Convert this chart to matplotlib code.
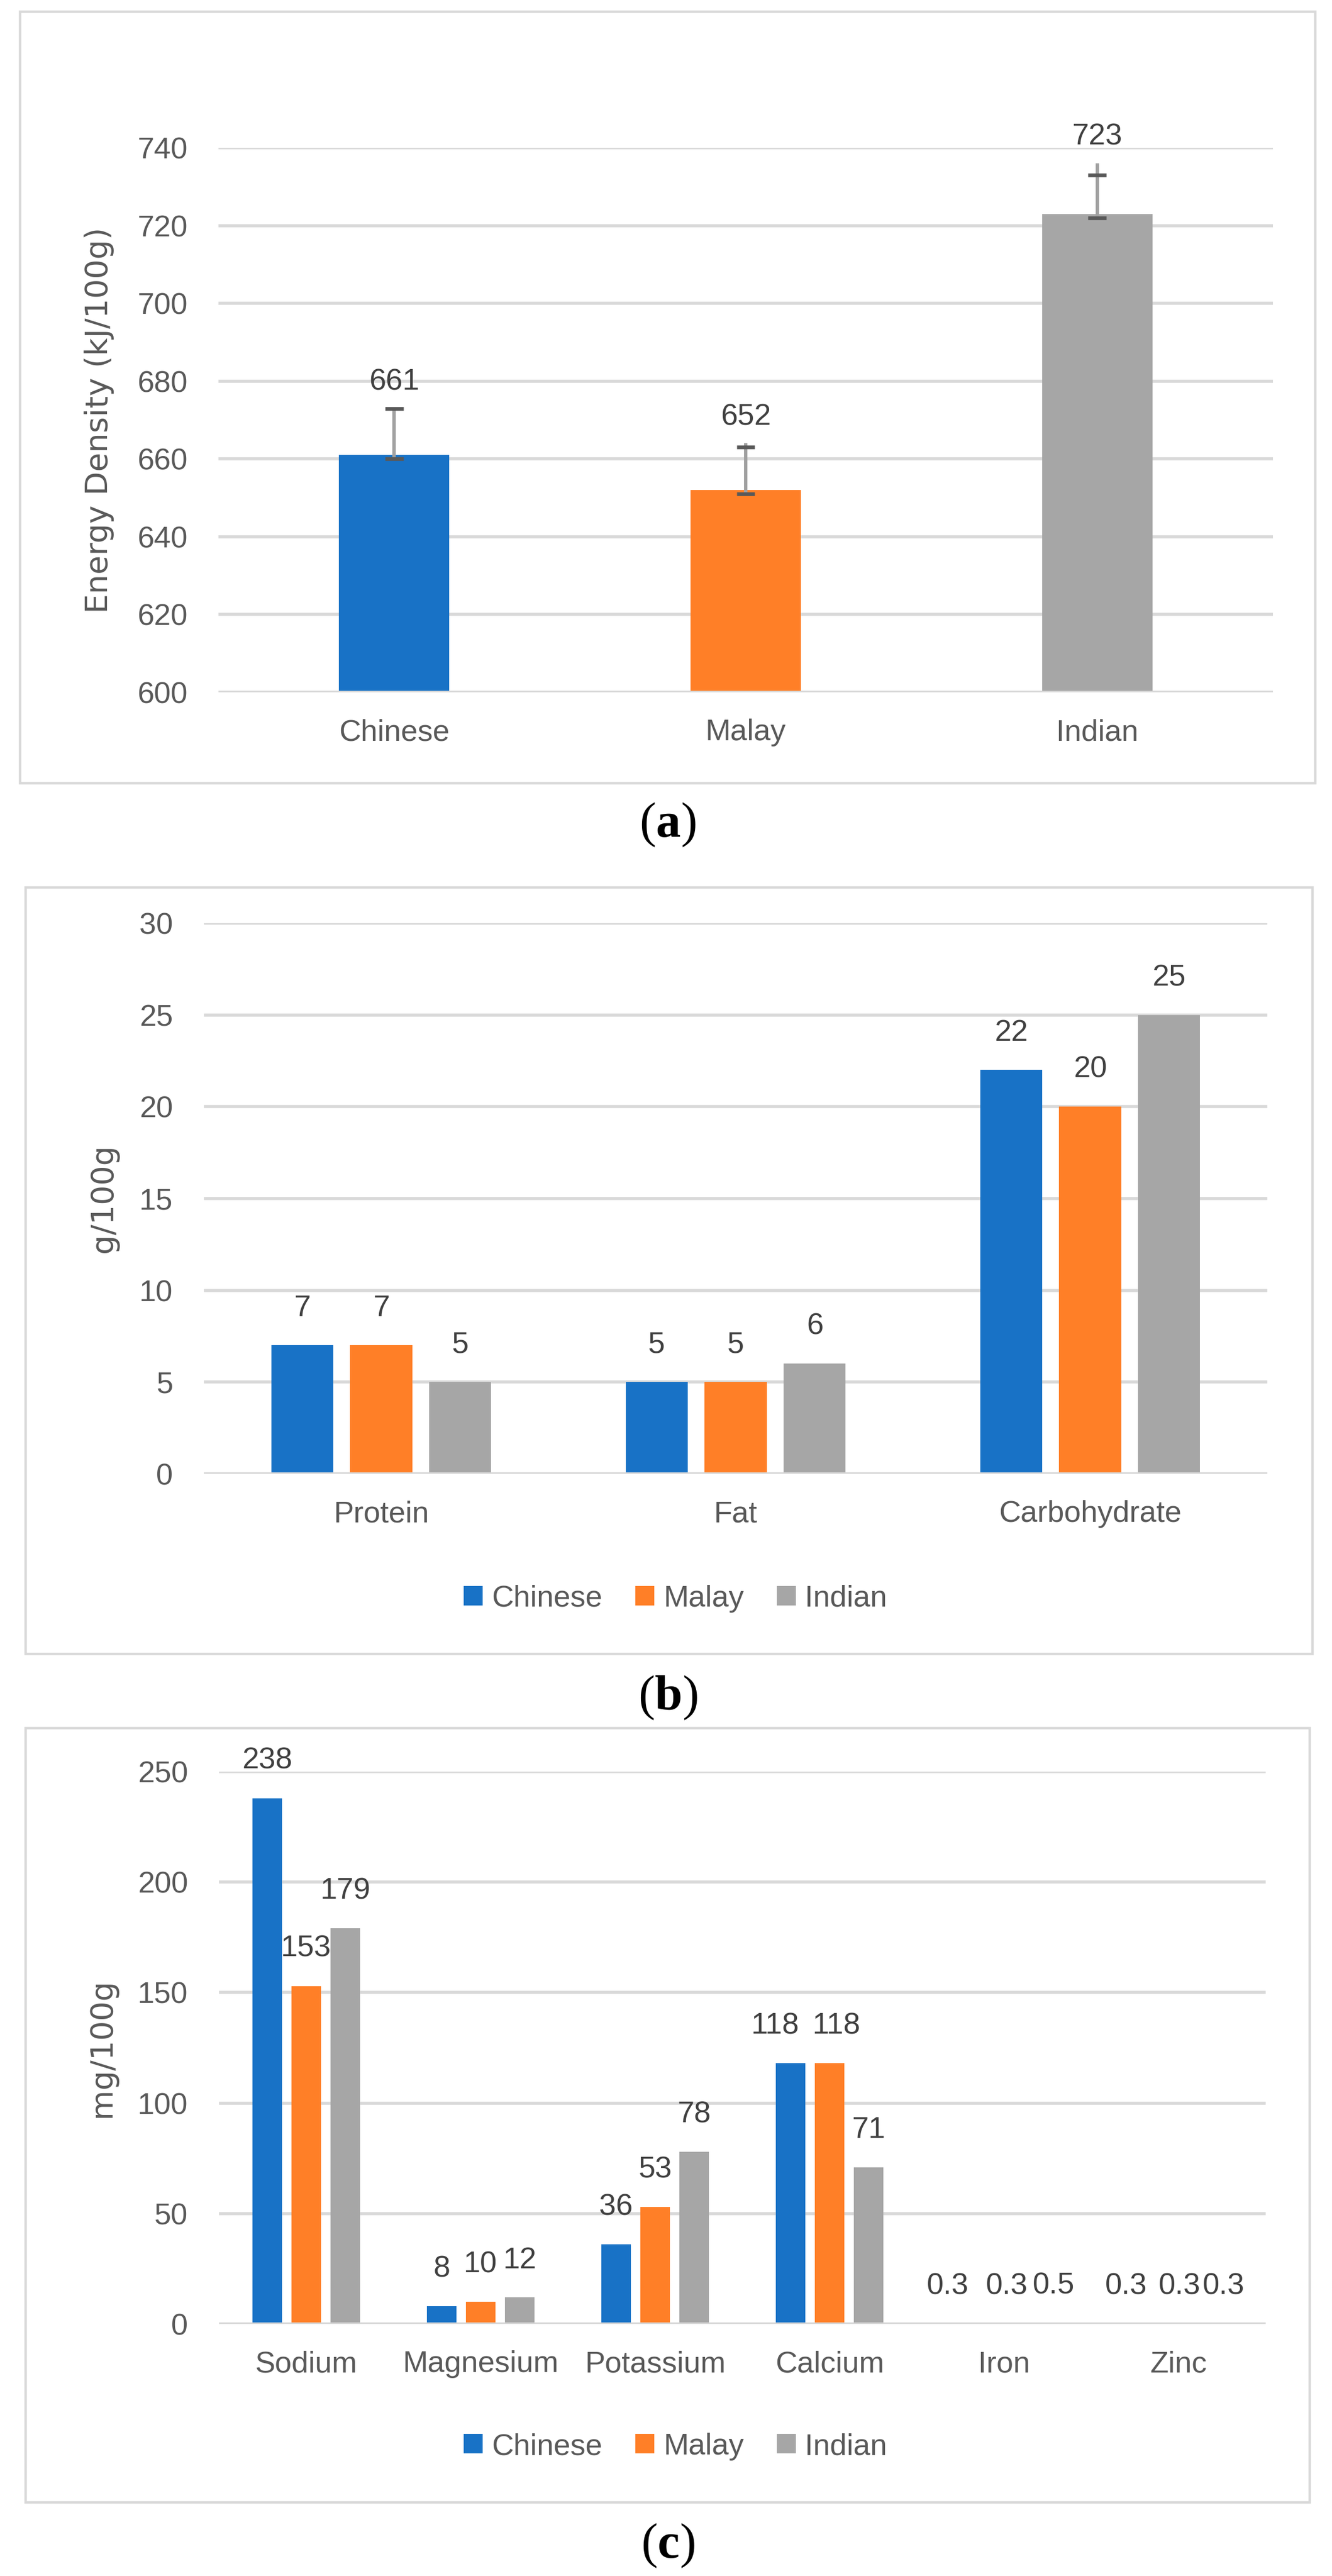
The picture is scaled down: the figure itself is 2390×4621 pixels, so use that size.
import matplotlib
matplotlib.use('Agg')
import matplotlib.pyplot as plt
from matplotlib.patches import Rectangle
from matplotlib import font_manager as fm
import numpy as np

# narrow sans if available, otherwise plain Liberation Sans
_names = {f.name for f in fm.fontManager.ttflist}
BASE = 'Liberation Sans Narrow' if 'Liberation Sans Narrow' in _names else 'Liberation Sans'
FS = 21 if BASE == 'Liberation Sans Narrow' else 19.5

plt.rcParams.update({
    'font.family': [BASE, 'DejaVu Sans'],
    'mathtext.fontset': 'custom',
    'mathtext.rm': 'Liberation Serif',
    'mathtext.bf': 'Liberation Serif:bold',
})

# ---- data ----
groups = ['Chinese', 'Malay', 'Indian']
colors = ['#1872C6', '#FF7F27', '#A6A6A6']

energy = [661, 652, 723]
energy_err_lo = [660, 651, 722]
energy_err_hi = [673, 663, 733]
energy_err_top = [673, 664, 736]

macro_cats = ['Protein', 'Fat', 'Carbohydrate']
macro_chinese = [7, 5, 22]
macro_malay = [7, 5, 20]
macro_indian = [5, 6, 25]

mineral_cats = ['Sodium', 'Magnesium', 'Potassium', 'Calcium', 'Iron', 'Zinc']
mineral_chinese = [238, 8, 36, 118, 0.3, 0.3]
mineral_malay = [153, 10, 53, 118, 0.3, 0.3]
mineral_indian = [179, 12, 78, 71, 0.5, 0.3]

# label nudges (points) used in the source chart for crowded labels in (c)
mineral_nudge = [
    [0, 0, 0, -10, -11, -8.6],   # Chinese
    [0, 0, 0, 4.7, 1.8, 0.7],    # Malay
    [0, 0, 0, 0, 6.8, 4.0],      # Indian
]

W, H = 2390, 4621
fig = plt.figure(figsize=(W / 200, H / 200), dpi=200)

TICK = '#595959'
LABEL = '#404040'
GRID = '#D9D9D9'


def px_axes(x0, y0, x1, y1):
    return fig.add_axes([x0 / W, 1 - y1 / H, (x1 - x0) / W, (y1 - y0) / H])


def frame(x0, y0, x1, y1):
    fig.patches.append(Rectangle((x0 / W, 1 - y1 / H), (x1 - x0) / W, (y1 - y0) / H,
                                 transform=fig.transFigure, fill=False,
                                 edgecolor=GRID, linewidth=1.6))


def caption(letter, y):
    fig.text(1198 / W, 1 - y / H, r'($\mathbf{%s}$)' % letter, family='Liberation Serif',
             fontsize=32, ha='center', va='center', color='black')


def ylab(text, x, ax):
    pos = ax.get_position()
    fig.text(x / W, pos.y0 + pos.height / 2, text, rotation=90, ha='center', va='center',
             family='DejaVu Sans', fontsize=20, color=TICK)


def style(ax, ticks, ylim):
    ax.set_ylim(*ylim)
    ax.set_yticks(ticks)
    ax.grid(True, axis='y', color=GRID, linewidth=2.0, zorder=0)
    ax.set_axisbelow(True)
    ax.axhline(ylim[0], color=GRID, linewidth=2.0, zorder=3)  # category axis line over bars
    for s in ax.spines.values():
        s.set_visible(False)
    ax.tick_params(axis='both', length=0, labelsize=FS, labelcolor=TICK)
    ax.tick_params(axis='y', pad=20)
    ax.tick_params(axis='x', pad=17)


# ============ (a) energy density ============
frame(36, 21, 2360, 1405)
ax1 = px_axes(392, 265, 2284, 1242)
x = np.arange(len(groups))
ax1.bar(x, [e - 600 for e in energy], 0.314, bottom=600, color=colors, zorder=2)
ax1.vlines(x, energy_err_lo, energy_err_top, color='#A0A0A0', linewidth=2.2, zorder=4)
cap = 0.026
ax1.hlines(energy_err_lo, x - cap, x + cap, color='#595959', linewidth=2.4, zorder=5)
ax1.hlines(energy_err_hi, x - cap, x + cap, color='#595959', linewidth=2.4, zorder=5)
for xi, top, v in zip(x, energy_err_top, energy):
    ax1.annotate(str(v), (xi, top), xytext=(0, 17), textcoords='offset points',
                 ha='center', va='center', fontsize=FS, color=LABEL)
ax1.set_xlim(-0.5, 2.5)
ax1.set_xticks(x)
ax1.set_xticklabels(groups)
style(ax1, np.arange(600, 741, 20), (600, 740))
ylab('Energy Density (kJ/100g)', 178, ax1)
caption('a', 1480)


def grouped(ax, cats, series, width, pitch, nudge=None):
    xs = np.arange(len(cats))
    for i, (vals, c, name) in enumerate(zip(series, colors, groups)):
        pos = xs + (i - 1) * pitch
        ax.bar(pos, vals, width, color=c, label=name, zorder=2)
        for j, (p, v) in enumerate(zip(pos, vals)):
            dx = nudge[i][j] if nudge else 0
            ax.annotate(f'{v:g}', (p, v), xytext=(dx, 24), textcoords='offset points',
                        ha='center', va='center', fontsize=FS, color=LABEL)
    ax.set_xlim(-0.5, len(cats) - 0.5)
    ax.set_xticks(xs)
    ax.set_xticklabels(cats)


def legend(ax, y):
    ax.legend(loc='center', bbox_to_anchor=(1212 / W, 1 - y / H),
              bbox_transform=fig.transFigure, ncol=3, frameon=False, fontsize=FS,
              labelcolor=TICK, handlelength=0.62, handleheight=0.62,
              handletextpad=0.3, columnspacing=1.1)


# ============ (b) macronutrients ============
frame(46, 1592, 2355, 2967)
ax2 = px_axes(366, 1656, 2274, 2644)
grouped(ax2, macro_cats, [macro_chinese, macro_malay, macro_indian], 0.175, 0.223)
style(ax2, np.arange(0, 31, 5), (0, 30))
ylab('g/100g', 186, ax2)
legend(ax2, 2868)
caption('b', 3046)

# ============ (c) minerals ============
frame(46, 3100, 2350, 4489)
ax3 = px_axes(393, 3178, 2271, 4169)
grouped(ax3, mineral_cats, [mineral_chinese, mineral_malay, mineral_indian], 0.17, 0.224,
        nudge=mineral_nudge)
style(ax3, np.arange(0, 251, 50), (0, 250))
ylab('mg/100g', 183, ax3)
legend(ax3, 4389)
caption('c', 4567)

fig.savefig('out.png', dpi=200, facecolor='white')
